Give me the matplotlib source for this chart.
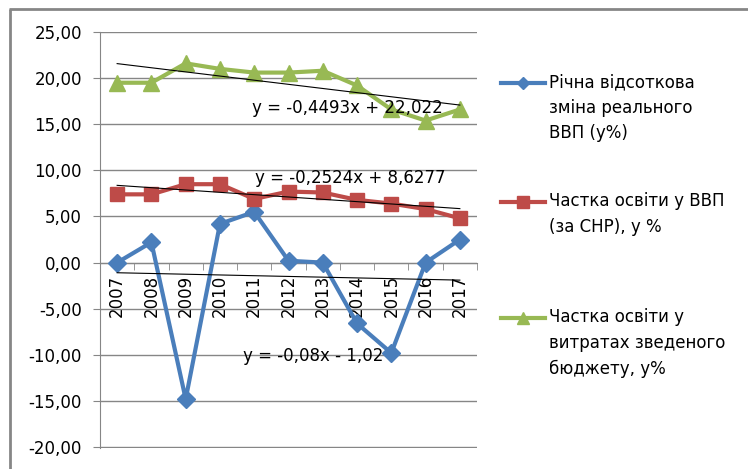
import numpy as np
import matplotlib.pyplot as plt
from matplotlib.lines import Line2D
from matplotlib.ticker import FuncFormatter

plt.rcParams['font.family'] = ['DejaVu Sans']

# data
years = ['2007', '2008', '2009', '2010', '2011', '2012', '2013', '2014', '2015', '2016', '2017']
gdp_change = [0.0, 2.2, -14.8, 4.2, 5.5, 0.2, 0.0, -6.6, -9.8, 0.0, 2.5]
edu_gdp = [7.4, 7.4, 8.5, 8.5, 6.9, 7.7, 7.6, 6.8, 6.4, 5.8, 4.8]
edu_budget = [19.5, 19.5, 21.6, 21.0, 20.6, 20.6, 20.8, 19.2, 16.6, 15.4, 16.6]

# trend lines (Excel linear trend, x = 1..11)
trend_gdp = (-0.08, -1.02)
trend_edu_gdp = (-0.2524, 8.6277)
trend_edu_budget = (-0.4493, 22.022)

labels = ['Річна відсоткова\nзміна реального\nВВП (у%)',
          'Частка освіти у ВВП\n(за СНР), у %',
          'Частка освіти у\nвитратах зведеного\nбюджету, у%']

blue = '#4A7EBB'
red = '#BE4B48'
green = '#98B954'
gray = '#868686'

fig = plt.figure(figsize=(7.48, 4.69), dpi=100)
ax = fig.add_axes([100 / 748, 1 - 448 / 469, 377 / 748, 416 / 469])

x = np.arange(len(years))
ax.plot(x, gdp_change, color=blue, lw=3, marker='D', ms=9.5, zorder=3)
ax.plot(x, edu_gdp, color=red, lw=3, marker='s', ms=10, zorder=3)
ax.plot(x, edu_budget, color=green, lw=3, marker='^', ms=11, zorder=3)

# trend lines
xt = np.array([1, len(years)])
for k, b in [trend_gdp, trend_edu_gdp, trend_edu_budget]:
    ax.plot(xt - 1, k * xt + b, color='black', lw=0.8, zorder=4)

def fmt_eq(k, b):
    s = 'y = %sx %s %s' % (('%g' % k).replace('.', ','),
                          '+' if b >= 0 else '-',
                          ('%g' % abs(b)).replace('.', ','))
    return s

ax.text(3.93, 16.75, fmt_eq(*trend_edu_budget), fontsize=12, va='center', zorder=5)
ax.text(4.02, 9.2, fmt_eq(*trend_edu_gdp), fontsize=12, va='center', zorder=5)
ax.text(3.67, -10.15, fmt_eq(*trend_gdp), fontsize=12, va='center', zorder=5)

ax.set_xlim(-0.5, len(years) - 0.5)
ax.set_ylim(-20.1, 25)
ax.set_yticks(np.arange(-20, 26, 5))
ax.yaxis.set_major_formatter(FuncFormatter(lambda v, p: ('%.2f' % v).replace('.', ',')))
ax.grid(axis='y', color=gray, lw=1)
ax.set_axisbelow(True)

ax.spines['top'].set_visible(False)
ax.spines['right'].set_visible(False)
ax.spines['left'].set_color(gray)
ax.spines['bottom'].set_color(gray)
ax.spines['bottom'].set_position(('data', 0))

ax.set_xticks(x)
ax.set_xticklabels(years, rotation=90)
ax.set_xticks(np.arange(len(years) + 1) - 0.5, minor=True)
ax.tick_params(axis='x', which='major', length=0, pad=9, labelsize=12)
ax.tick_params(axis='x', which='minor', length=5, direction='out', color=gray)
ax.tick_params(axis='y', length=5, color=gray, labelsize=12, pad=8)

# legend drawn by hand so the symbol sits on the first line of text
colors = [blue, red, green]
markers = ['D', 's', '^']
sizes = [6, 8, 8]
leg_y = [83, 202, 318]
for lab, c, m, s, yy in zip(labels, colors, markers, sizes, leg_y):
    yf = 1 - yy / 469
    fig.add_artist(Line2D([501 / 748, 545 / 748], [yf, yf], color=c, lw=3,
                          transform=fig.transFigure))
    fig.add_artist(Line2D([523 / 748], [yf], color=c, marker=m, ms=s, lw=0,
                          transform=fig.transFigure))
    fig.text(549 / 748, yf + 10 / 469, lab, fontsize=12, va='top', ha='left',
             linespacing=1.55)

# outer chart frame (only top and left edges visible)
top = 1 - 9 / 469
fig.add_artist(Line2D([10 / 748, 10 / 748], [0.0, top], color=gray, lw=2,
                      solid_capstyle='butt', transform=fig.transFigure))
fig.add_artist(Line2D([9 / 748, 1.0], [top, top], color=gray, lw=2,
                      solid_capstyle='butt', transform=fig.transFigure))

plt.savefig('out.png', dpi=100)
